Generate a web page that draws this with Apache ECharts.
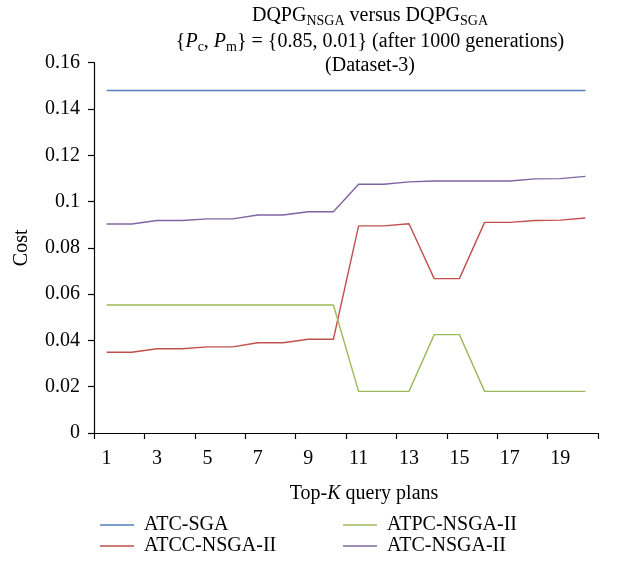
<!DOCTYPE html>
<html>
<head>
<meta charset="utf-8">
<script src="https://cdn.jsdelivr.net/npm/echarts@6/dist/echarts.min.js"></script>
<style>html,body{margin:0;padding:0;background:#fff;}#c{width:623px;height:563px;}</style>
</head>
<body>
<div id="c"></div>
<script>
var categories = ['1','2','3','4','5','6','7','8','9','10','11','12','13','14','15','16','17','18','19','20'];
var atcSga = [0.148,0.148,0.148,0.148,0.148,0.148,0.148,0.148,0.148,0.148,0.148,0.148,0.148,0.148,0.148,0.148,0.148,0.148,0.148,0.148];
var atccNsga = [0.0349,0.0349,0.0364,0.0364,0.0372,0.0372,0.039,0.039,0.0405,0.0405,0.0895,0.0895,0.0904,0.0667,0.0667,0.091,0.091,0.0918,0.092,0.0929];
var atpcNsga = [0.0553,0.0553,0.0553,0.0553,0.0553,0.0553,0.0553,0.0553,0.0553,0.0553,0.018,0.018,0.018,0.0425,0.0425,0.018,0.018,0.018,0.018,0.018];
var atcNsga = [0.0903,0.0903,0.0918,0.0918,0.0925,0.0925,0.0942,0.0942,0.0956,0.0956,0.1075,0.1075,0.1085,0.1089,0.1089,0.1089,0.1089,0.1098,0.1099,0.1109];
var seriesNames = ['ATC-SGA','ATCC-NSGA-II','ATPC-NSGA-II','ATC-NSGA-II'];
var colors = ['#4F81BD','#C0504D','#9BBB59','#8064A2'];

var FONT = 'Liberation Serif';
var FS = 20;
var chart = echarts.init(document.getElementById('c'));
function mk(name, data, color) {
  return { name: name, type: 'line', data: data, symbol: 'none', showSymbol: false,
    lineStyle: { color: color, width: 1.4 }, itemStyle: { color: color }, animation: false };
}
function lg(name, left, top) {
  return { left: left, top: top, icon: 'rect', itemWidth: 34, itemHeight: 1.6,
    data: [name], selectedMode: false,
    textStyle: { color: '#000', fontSize: FS, fontFamily: FONT, padding: [0, 0, 0, 5] } };
}
var rich = {
  sub: { fontSize: 14, fontFamily: FONT, verticalAlign: 'bottom', lineHeight: 15, fill: '#000' },
  it: { fontSize: FS, fontFamily: FONT, fontStyle: 'italic', fill: '#000' }
};
chart.setOption({
  animation: false,
  textStyle: { fontFamily: FONT },
  grid: { left: 94, right: 25, top: 62.7, bottom: 130 },
  graphic: [
    { type: 'text', x: 370, y: 3, style: { text: 'DQPG{sub|NSGA} versus DQPG{sub|SGA}', fontSize: FS, fontFamily: FONT, lineHeight: 25, fill: '#000', align: 'center', textAlign: 'center', rich: rich } },
    { type: 'text', x: 370, y: 29, style: { text: '{{it|P}{sub|c}, {it|P}{sub|m}} = {0.85, 0.01} (after 1000 generations)', fontSize: FS, fontFamily: FONT, lineHeight: 25, fill: '#000', align: 'center', textAlign: 'center', rich: rich } },
    { type: 'text', x: 370, y: 55, style: { text: '(Dataset-3)', fontSize: FS, fontFamily: FONT, lineHeight: 22, fill: '#000', align: 'center', textAlign: 'center' } }
  ],
  xAxis: {
    type: 'category', data: categories, boundaryGap: true,
    axisLine: { lineStyle: { color: '#000', width: 1.2 } },
    axisTick: { show: true, length: 6, lineStyle: { color: '#000', width: 1.2 } },
    axisLabel: { interval: 1, color: '#000', fontSize: FS, fontFamily: FONT, margin: 16 },
    name: 'Top-{i|K} query plans', nameLocation: 'middle', nameGap: 51,
    nameTextStyle: { color: '#000', fontSize: FS, fontFamily: FONT, padding: [0, 0, 0, 36],
      rich: { i: { fontStyle: 'italic', fontSize: FS, fontFamily: FONT, color: '#000' } } }
  },
  yAxis: {
    type: 'value', min: 0, max: 0.16, interval: 0.02,
    splitLine: { show: false },
    axisLine: { show: true, lineStyle: { color: '#000', width: 1.2 } },
    axisTick: { show: true, length: 6, lineStyle: { color: '#000', width: 1.2 } },
    axisLabel: { color: '#000', fontSize: FS, fontFamily: FONT, margin: 14,
      formatter: function (v) { return String(Math.round(v * 100) / 100); } },
    name: 'Cost', nameLocation: 'middle', nameGap: 62,
    nameTextStyle: { color: '#000', fontSize: FS, fontFamily: FONT }
  },
  legend: [
    lg('ATC-SGA', 95, 510),
    lg('ATCC-NSGA-II', 95, 531),
    lg('ATPC-NSGA-II', 338, 510),
    lg('ATC-NSGA-II', 338, 531)
  ],
  series: [
    mk(seriesNames[0], atcSga, colors[0]),
    mk(seriesNames[1], atccNsga, colors[1]),
    mk(seriesNames[2], atpcNsga, colors[2]),
    mk(seriesNames[3], atcNsga, colors[3])
  ]
});
</script>
</body>
</html>
